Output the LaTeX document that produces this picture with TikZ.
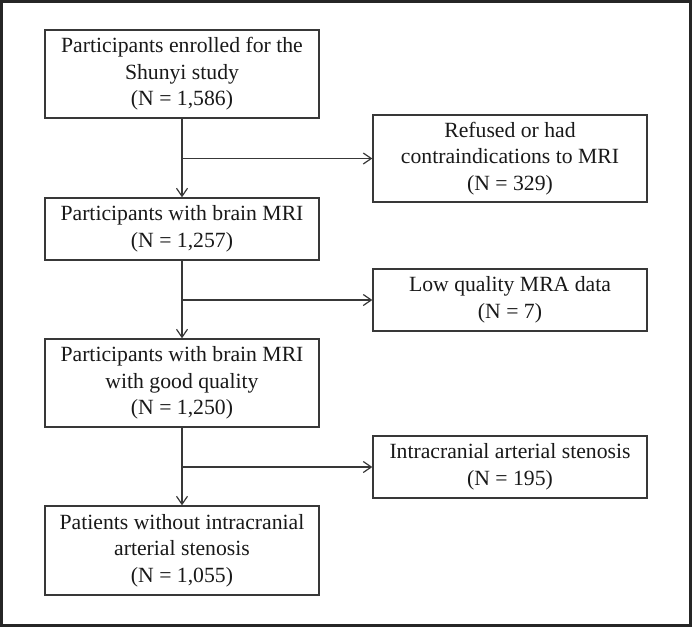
\documentclass[tikz,border=0pt]{standalone}
\usepackage{fontspec}
\setmainfont{Liberation Serif}
\usetikzlibrary{arrows.meta}
\begin{document}
\begin{tikzpicture}
[x=1pt,y=-1pt,
 every node/.style={draw=black!78, line width=1.4pt, fill=white, text=black!90,
   align=center, minimum width=274pt, inner sep=0pt,
   font=\fontsize{21.7}{26.5}\selectfont},
 flow/.style={draw=black!78, line width=1.4pt, -{Straight Barb[length=8pt,width=11pt,line width=1.2pt]}}]
\useasboundingbox (0,0) rectangle (692,627);
\draw[black!85, line width=2.2pt] (1.5,1.5) rectangle (690.5,625.5);
% main column
\node(enrolled) at (182,74) [minimum height=88pt] {Participants enrolled for the\\Shunyi study\\(N = 1,586)};
\node(mri) at (182,229) [minimum height=62pt] {Participants with brain MRI\\(N = 1,257)};
\node(good) at (182,383) [minimum height=88pt] {Participants with brain MRI\\with good quality\\(N = 1,250)};
\node(final) at (182,550.5) [minimum height=89pt] {Patients without intracranial\\arterial stenosis\\(N = 1,055)};
% exclusions
\node(refused) at (510,158.5) [minimum height=87pt] {Refused or had\\contraindications to MRI\\(N = 329)};
\node(lowq) at (510,300) [minimum height=62pt] {Low quality MRA data\\(N = 7)};
\node(ias) at (510,467) [minimum height=62pt] {Intracranial arterial stenosis\\(N = 195)};
\draw[flow] (enrolled) to (mri);
\draw[flow] (mri) to (good);
\draw[flow] (good) to (final);
\draw[flow] (enrolled.south |- refused.west) to (refused.west);
\draw[flow] (mri.south |- lowq.west) to (lowq.west);
\draw[flow] (good.south |- ias.west) to (ias.west);
\end{tikzpicture}
\end{document}
